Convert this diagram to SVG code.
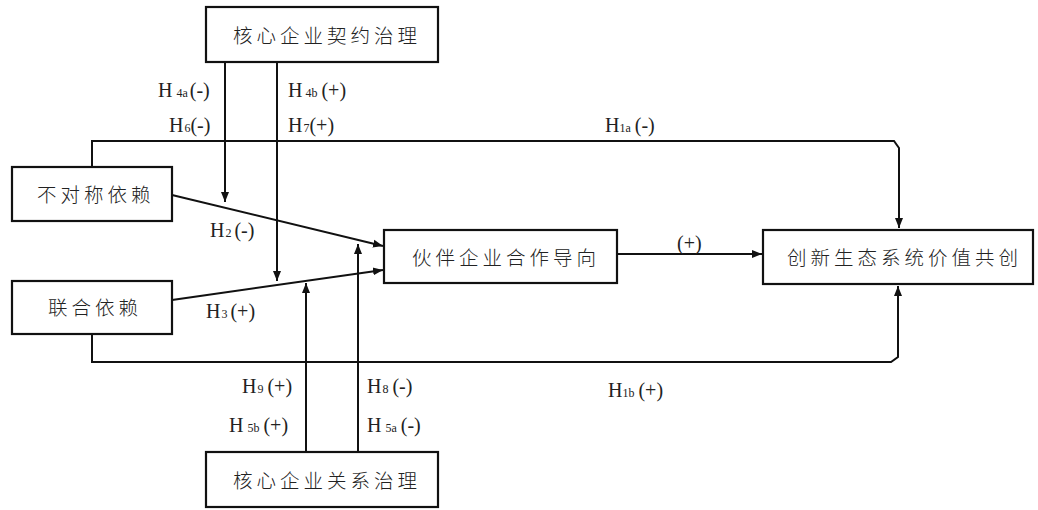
<svg xmlns="http://www.w3.org/2000/svg" width="1038" height="510" viewBox="0 0 1038 510">
<defs>
<marker id="arr" viewBox="0 0 10 10" refX="10" refY="5" markerWidth="10" markerHeight="10" markerUnits="userSpaceOnUse" orient="auto">
<path d="M0,1 L10,5 L0,9 Z" fill="#111"/>
</marker>
<style>
.box{fill:#fff;stroke:#111;stroke-width:2.2}
.cn{font-family:"Noto Sans CJK SC","Noto Sans CJK JP",sans-serif;font-size:19.5px;font-weight:300;letter-spacing:4px;fill:#222}
.h{font-family:"Liberation Serif","DejaVu Serif",serif;font-size:20px;fill:#222}
.s{font-size:12px}
.ln{fill:none;stroke:#111;stroke-width:2}
</style>
</defs>
<rect width="1038" height="510" fill="#fff"/>
<g id="connectors">
<path class="ln" d="M225,62 V202" marker-end="url(#arr)"/>
<path class="ln" d="M277,62 V281" marker-end="url(#arr)"/>
<path class="ln" d="M306,452 V283" marker-end="url(#arr)"/>
<path class="ln" d="M358,452 V244" marker-end="url(#arr)"/>
<path class="ln" d="M172,195 L383,246" marker-end="url(#arr)"/>
<path class="ln" d="M172,300 L383,270" marker-end="url(#arr)"/>
<path class="ln" d="M617,254 H762" marker-end="url(#arr)"/>
<path class="ln" d="M92,167 V141 H894 L899,148 V228" marker-end="url(#arr)"/>
<path class="ln" d="M92,334 V362 H891 L898,357 V286" marker-end="url(#arr)"/>
</g>
<g id="labels">
<text class="h" x="158" y="97">H<tspan class="s" dx="4">4a</tspan><tspan dx="2">(-)</tspan></text>
<text class="h" x="169" y="132">H<tspan class="s" dx="1">6</tspan>(-)</text>
<text class="h" x="288" y="97">H<tspan class="s" dx="3">4b</tspan><tspan dx="4">(+)</tspan></text>
<text class="h" x="288" y="132">H<tspan class="s" dx="1">7</tspan>(+)</text>
<text class="h" x="605" y="132">H<tspan class="s">1a</tspan><tspan dx="4">(-)</tspan></text>
<text class="h" x="210" y="237">H<tspan class="s" dx="1">2</tspan><tspan dx="3">(-)</tspan></text>
<text class="h" x="206" y="318">H<tspan class="s" dx="1">3</tspan><tspan dx="3">(+)</tspan></text>
<text class="h" x="677" y="250">(+)</text>
<text class="h" x="242" y="393">H<tspan class="s" dx="1">9</tspan><tspan dx="4">(+)</tspan></text>
<text class="h" x="229" y="432">H<tspan class="s" dx="4">5b</tspan><tspan dx="4">(+)</tspan></text>
<text class="h" x="367" y="393">H<tspan class="s" dx="1">8</tspan><tspan dx="4">(-)</tspan></text>
<text class="h" x="367" y="432">H<tspan class="s" dx="4">5a</tspan><tspan dx="4">(-)</tspan></text>
<text class="h" x="608" y="397">H<tspan class="s">1b</tspan><tspan dx="4">(+)</tspan></text>
</g>
<g id="node-contract">
<rect class="box" x="206" y="7" width="232" height="55"/>
<text class="cn" x="233" y="43">核心企业契约治理</text>
</g>
<g id="node-asym">
<rect class="box" x="12" y="167" width="160" height="54"/>
<text class="cn" x="37" y="202">不对称依赖</text>
</g>
<g id="node-joint">
<rect class="box" x="12" y="281" width="160" height="53"/>
<text class="cn" x="48" y="315">联合依赖</text>
</g>
<g id="node-partner">
<rect class="box" x="384" y="230" width="233" height="53"/>
<text class="cn" x="412" y="265">伙伴企业合作导向</text>
</g>
<g id="node-value">
<rect class="box" x="763" y="230" width="270" height="54"/>
<text class="cn" x="787" y="265">创新生态系统价值共创</text>
</g>
<g id="node-relation">
<rect class="box" x="206" y="452" width="232" height="55"/>
<text class="cn" x="233" y="488">核心企业关系治理</text>
</g>
</svg>
